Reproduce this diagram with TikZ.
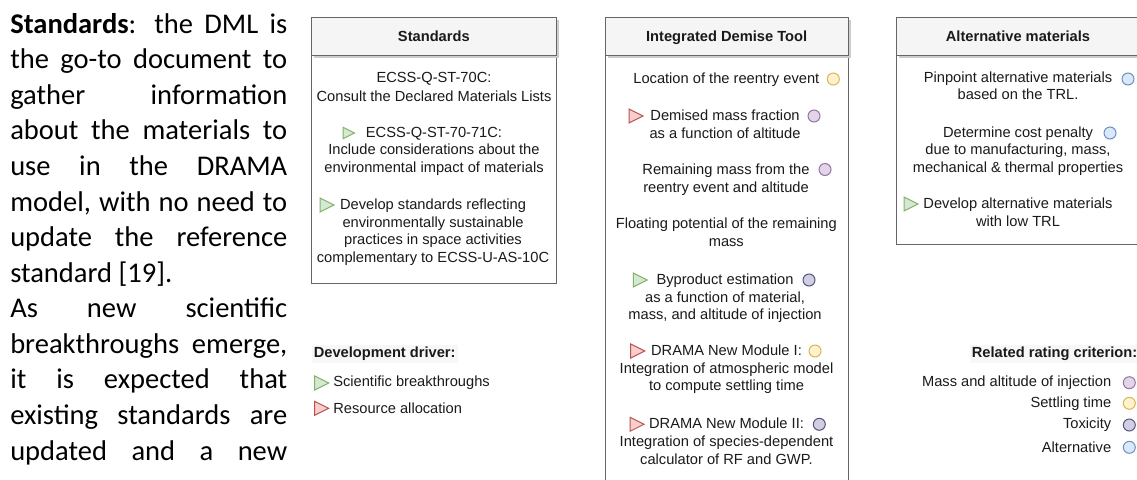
\documentclass[tikz,border=0pt]{standalone}
\usepackage{fontspec}
\setmainfont{Carlito}
\newfontfamily\arialfont{Liberation Sans}
\usetikzlibrary{positioning}

\definecolor{edge}{HTML}{666666}
\definecolor{headfill}{HTML}{F5F5F5}
\definecolor{legendbg}{HTML}{F7F7F7}
\definecolor{ink}{HTML}{1A1A1A}
\definecolor{greenfill}{HTML}{D5E8D4}
\definecolor{greenline}{HTML}{82B366}
\definecolor{redfill}{HTML}{F8CECC}
\definecolor{redline}{HTML}{B85450}
\definecolor{yellowfill}{HTML}{FFF2CC}
\definecolor{yellowline}{HTML}{D6B656}
\definecolor{purplefill}{HTML}{E1D5E7}
\definecolor{purpleline}{HTML}{9673A6}
\definecolor{toxfill}{HTML}{D0CEE2}
\definecolor{toxline}{HTML}{56517E}
\definecolor{bluefill}{HTML}{DAE8FC}
\definecolor{blueline}{HTML}{6C8EBF}

\tikzset{
    lane/.style={draw=edge, line width=0.75pt, fill=white},
    lanehead/.style={draw=edge, line width=0.75pt, fill=headfill},
    laneshadow/.style={fill=black!20},
    lanetitle/.style={font=\arialfont\bfseries\fontsize{11pt}{13.3pt}\selectfont, text=ink, inner sep=0pt},
    legendtitle/.style={lanetitle, fill=legendbg, inner sep=1.5pt},
    item/.style={font=\arialfont\fontsize{11pt}{13.3pt}\selectfont, text=ink, align=center, inner sep=0pt, anchor=north},
    para/.style={font=\fontsize{21.4pt}{26.7pt}\selectfont, text=black, inner sep=0pt, anchor=base west},
    rate/.style={circle, draw, line width=0.75pt, minimum size=9pt, inner sep=0pt},
    massrate/.style={rate, fill=purplefill, draw=purpleline},
    settlerate/.style={rate, fill=yellowfill, draw=yellowline},
    toxrate/.style={rate, fill=toxfill, draw=toxline},
    altrate/.style={rate, fill=bluefill, draw=blueline},
    sci/.style={fill=greenfill, draw=greenline, line width=0.75pt},
    res/.style={fill=redfill, draw=redline, line width=0.75pt},
}

% name, left, right, bottom, title
\newcommand{\lane}[5]{
    \draw[lane] (#2,55) rectangle (#3,#4);
    \fill[laneshadow] (#2+2.5,19.8) rectangle (#3+2.5,57.5);
    \draw[lanehead] (#2,17.3) rectangle (#3,55);
    \node[lanetitle, anchor=base] (#1) at ({(#2+#3)/2},41.3) {#5};
}
% style, x, y
\newcommand{\driver}[3]{
    \draw[shift={(#2,#3)},#1] (-6,-7) -- (8,0) -- (-6,7) -- cycle;
}

\begin{document}
\begin{tikzpicture}[x=0.75pt,y=-0.75pt]
    \useasboundingbox (0,0) rectangle (1137,479);
    \clip (0,0) rectangle (1137,479);

    % text column
    \foreach \txt [count=\i from 0] in {
        {\textbf{Standards}: the DML is},
        {the go-to document to},
        {gather information},
        {about the materials to},
        {use in the DRAMA},
        {model, with no need to},
        {update the reference},
        {standard [19].\hfill},
        {As new scientific},
        {breakthroughs emerge,},
        {it is expected that},
        {existing standards are},
        {updated and a new}}
        \node[para] (line\i) at (10,33.3+35.56*\i) {\makebox[207.75pt][s]{\txt}};

    % Standards
    \lane{stdTitle}{311.7}{556}{283}{Standards}
    \node[item] (std1) at (434,71.5) {ECSS-Q-ST-70C:\\[1pt]Consult the Declared Materials Lists};
    \node[item] (std2) at (434,126.5) {ECSS-Q-ST-70-71C:\\Include considerations about the\\environmental impact of materials};
    \node[item] (std3) at (433,198.5) {Develop standards reflecting\\environmentally sustainable\\practices in space activities\\complementary to ECSS-U-AS-10C};
    \driver{sci,scale=0.8}{348}{133}
    \driver{sci}{326}{205}

    % Integrated Demise Tool
    \lane{idtTitle}{605}{848.3}{490}{Integrated Demise Tool}
    \node[item] (loc) at (726.3,72.8) {Location of the reentry event};
    \node[item] (dem) at (725,109.5) {Demised mass fraction\\as a function of altitude};
    \node[item] (rem) at (726,163.5) {Remaining mass from the\\reentry event and altitude};
    \node[item] (flo) at (726.3,217.5) {Floating potential of the remaining\\mass};
    \node[item] (byp) at (725,273.5) {Byproduct estimation\\as a function of material,\\mass, and altitude of injection};
    \node[item] (dm1) at (726.5,344.5) {DRAMA New Module I:\\Integration of atmospheric model\\to compute settling time};
    \node[item] (dm2) at (726.5,417.8) {DRAMA New Module II:\\Integration of species-dependent\\calculator of RF and GWP.};

    \node[settlerate] (cLoc) at (833.3,79) {};
    \driver{res}{635}{116}
    \node[massrate] (cDem) at (814,116) {};
    \node[massrate] (cRem) at (825,169.5) {};
    \driver{sci}{639.3}{280}
    \node[toxrate] (cByp) at (809,280) {};
    \driver{res}{636.7}{351}
    \node[settlerate] (cDm1) at (815,351) {};
    \driver{res}{636}{424.3}
    \node[toxrate] (cDm2) at (819.3,424.3) {};

    % Alternative materials
    \lane{altTitle}{896}{1140}{244}{Alternative materials}
    \node[item] (pin) at (1018,71.2) {Pinpoint alternative materials\\based on the TRL.};
    \node[item] (cost) at (1018,126.2) {Determine cost penalty\\due to manufacturing, mass,\\mechanical \& thermal properties};
    \node[item] (dev) at (1018,197.5) {Develop alternative materials\\with low TRL};
    \node[altrate] (cPin) at (1128,79) {};
    \node[altrate] (cCost) at (1110,133) {};
    \driver{sci}{910}{204}

    % legend: drivers
    \node[legendtitle, anchor=west] (drv) at (311.5,354) {Development driver:};
    \driver{sci}{320.7}{383}
    \node[item, anchor=west] (sciTxt) at (333,383) {Scientific breakthroughs};
    \driver{res}{320.7}{408.3}
    \node[item, anchor=west] (resTxt) at (333,408.3) {Resource allocation};

    % legend: rating criteria
    \node[legendtitle, anchor=east] (rrc) at (1139.5,354) {Related rating criterion:};
    \node[massrate] (lgMass) at (1129.3,382.7) {};
    \node[settlerate] (lgSettle) at (1129.3,403.3) {};
    \node[toxrate] (lgTox) at (1129.3,425) {};
    \node[altrate] (lgAlt) at (1129.3,447.3) {};
    \node[item, left=8.5pt of lgMass] (lgMassTxt) {Mass and altitude of injection};
    \node[item, left=8.5pt of lgSettle] (lgSettleTxt) {Settling time};
    \node[item, left=8.5pt of lgTox] (lgToxTxt) {Toxicity};
    \node[item, left=8.5pt of lgAlt] (lgAltTxt) {Alternative};
\end{tikzpicture}
\end{document}
